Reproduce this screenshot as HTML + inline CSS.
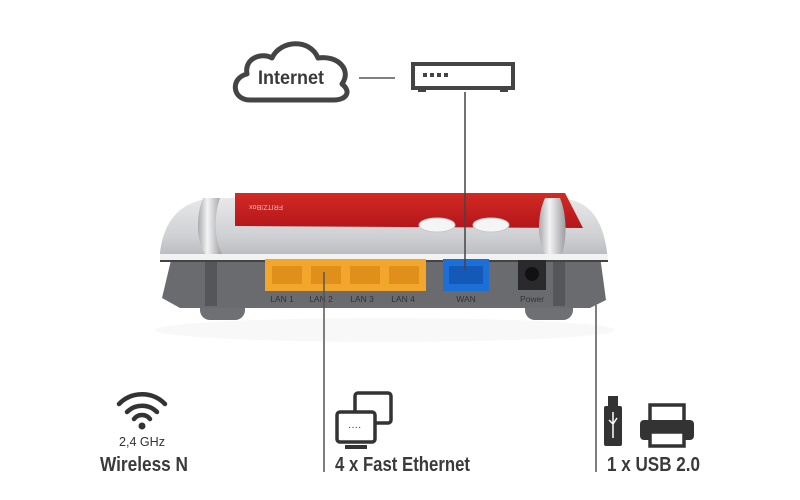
<!DOCTYPE html>
<html><head><style>
html,body{margin:0;padding:0;background:#fff;}
svg{display:block;}
text{font-family:"Liberation Sans",sans-serif;fill:#333;}
</style></head><body>
<svg width="800" height="500" viewBox="0 0 800 500">
<defs>
<linearGradient id="silver" x1="0" y1="0" x2="0" y2="1">
<stop offset="0" stop-color="#e8e8ea"/><stop offset="0.6" stop-color="#cfd0d3"/><stop offset="1" stop-color="#b4b5b8"/>
</linearGradient>
<linearGradient id="red" x1="0" y1="0" x2="0" y2="1">
<stop offset="0" stop-color="#d22a25"/><stop offset="1" stop-color="#b4161a"/>
</linearGradient>
<linearGradient id="pillar" x1="0" y1="0" x2="1" y2="0">
<stop offset="0" stop-color="#a9aaad"/><stop offset="0.4" stop-color="#f4f4f5"/><stop offset="1" stop-color="#9c9da0"/>
</linearGradient>
</defs>
<!-- cloud -->
<path d="M250 100 C232 100 230 78 247 74 C244 58 262 52 272 58 C280 40 310 38 318 58 C338 55 352 70 342 84 C352 92 346 100 334 100 Z" fill="none" stroke="#444" stroke-width="5" stroke-linejoin="round"/>
<text x="258" y="84" font-size="19" textLength="66" lengthAdjust="spacingAndGlyphs" font-weight="bold" style="fill:#3a3a3a">Internet</text>
<line x1="359" y1="78" x2="395" y2="78" stroke="#555" stroke-width="1.5"/>
<!-- modem -->
<rect x="413" y="64" width="100" height="24" fill="none" stroke="#444" stroke-width="4"/>
<rect x="418" y="86" width="8" height="6" fill="#444"/><rect x="500" y="86" width="8" height="6" fill="#444"/>
<rect x="423" y="73" width="4" height="4" fill="#444"/><rect x="430" y="73" width="4" height="4" fill="#444"/><rect x="437" y="73" width="4" height="4" fill="#444"/><rect x="444" y="73" width="4" height="4" fill="#444"/>
<!-- router -->
<ellipse cx="385" cy="330" rx="230" ry="12" fill="#f8f8f8"/>
<rect x="200" y="290" width="45" height="30" rx="10" fill="#6f7073"/>
<rect x="525" y="290" width="48" height="30" rx="10" fill="#6f7073"/>
<path d="M172 256 L600 256 L606 300 L590 308 L180 308 L162 298 Z" fill="#6a6b6f"/>
<rect x="205" y="258" width="12" height="48" fill="#555659"/>
<rect x="553" y="258" width="12" height="48" fill="#555659"/>
<path d="M160 252 C165 215 185 200 215 198 L560 198 C590 200 605 220 608 262 L600 262 L160 262 Z" fill="url(#silver)"/>
<path d="M160 254 L608 254 L608 260 L160 260 Z" fill="#f2f2f2"/>
<path d="M160 260 L608 260 L608 262 L160 262 Z" fill="#444"/>
<path d="M235 193 L565 193 L583 228 L235 226 Z" fill="url(#red)"/>
<text x="283" y="209" font-size="7" style="fill:#f4b5b5" transform="rotate(180 283 207)">FRITZ!Box</text>
<ellipse cx="437" cy="225" rx="18" ry="7" fill="#f5f5f5" stroke="#c8c8c8"/>
<ellipse cx="491" cy="225" rx="18" ry="7" fill="#f5f5f5" stroke="#c8c8c8"/>
<path d="M203 198 C196 215 196 240 205 254 L222 254 C214 238 214 215 220 198 Z" fill="url(#pillar)"/>
<path d="M545 198 C537 215 537 240 545 254 L562 254 C567 238 567 215 560 198 Z" fill="url(#pillar)"/>
<!-- ports -->
<rect x="265" y="259" width="161" height="32" fill="#f2a72c"/>
<g fill="#e08f1a"><rect x="272" y="266" width="30" height="18"/><rect x="311" y="266" width="30" height="18"/><rect x="350" y="266" width="30" height="18"/><rect x="389" y="266" width="30" height="18"/></g>
<rect x="443" y="259" width="46" height="32" fill="#1b6fd6"/>
<rect x="449" y="266" width="34" height="18" fill="#1559b8"/>
<rect x="518" y="260" width="28" height="30" fill="#2a2a2c"/>
<circle cx="532" cy="274" r="7" fill="#111"/>
<g font-size="8.5" style="fill:#ddd" text-anchor="middle">
<text x="282" y="302">LAN 1</text><text x="321" y="302">LAN 2</text><text x="362" y="302">LAN 3</text><text x="403" y="302">LAN 4</text>
<text x="466" y="302">WAN</text><text x="532" y="302">Power</text>
</g>
<!-- connectors -->
<line x1="465" y1="92" x2="465" y2="270" stroke="#444" stroke-width="1.5"/>
<line x1="324" y1="272" x2="324" y2="472" stroke="#555" stroke-width="1.5"/>
<line x1="596" y1="305" x2="596" y2="472" stroke="#555" stroke-width="1.5"/>
<!-- wifi -->
<g fill="none" stroke="#333" stroke-width="4.5" stroke-linecap="round">
<path d="M119 404 A32 32 0 0 1 165 404"/>
<path d="M127 412 A21 21 0 0 1 157 412"/>
<path d="M134 419 A10 10 0 0 1 150 419"/>
</g>
<circle cx="142" cy="426" r="3.5" fill="#333"/>
<text x="119" y="446" font-size="13" textLength="46" lengthAdjust="spacingAndGlyphs">2,4 GHz</text>
<text x="100" y="471" font-size="20" textLength="88" lengthAdjust="spacingAndGlyphs" font-weight="bold" style="fill:#3a3a3a">Wireless N</text>
<!-- monitors -->
<rect x="355" y="393" width="36" height="30" rx="3" fill="#fff" stroke="#333" stroke-width="3.5"/>
<rect x="337" y="412" width="38" height="30" rx="3" fill="#fff" stroke="#333" stroke-width="3.5"/>
<path d="M345 447 L367 447" stroke="#333" stroke-width="4"/>
<text x="348" y="430" font-size="10" style="fill:#333">····</text>
<text x="335" y="471" font-size="20" textLength="135" lengthAdjust="spacingAndGlyphs" font-weight="bold" style="fill:#3a3a3a">4 x Fast Ethernet</text>
<!-- usb -->
<rect x="608" y="396" width="10" height="10" fill="#333"/>
<rect x="604" y="406" width="18" height="40" rx="2" fill="#333"/>
<path d="M613 412 L613 438 M609 420 L613 424 L617 418" stroke="#fff" stroke-width="1.5" fill="none"/>
<rect x="650" y="405" width="34" height="18" fill="#fff" stroke="#333" stroke-width="3.5"/>
<rect x="640" y="420" width="54" height="20" rx="4" fill="#333"/>
<rect x="650" y="432" width="34" height="14" fill="#fff" stroke="#333" stroke-width="3.5"/>
<text x="607" y="471" font-size="20" textLength="93" lengthAdjust="spacingAndGlyphs" font-weight="bold" style="fill:#3a3a3a">1 x USB 2.0</text>
</svg>
</body></html>
